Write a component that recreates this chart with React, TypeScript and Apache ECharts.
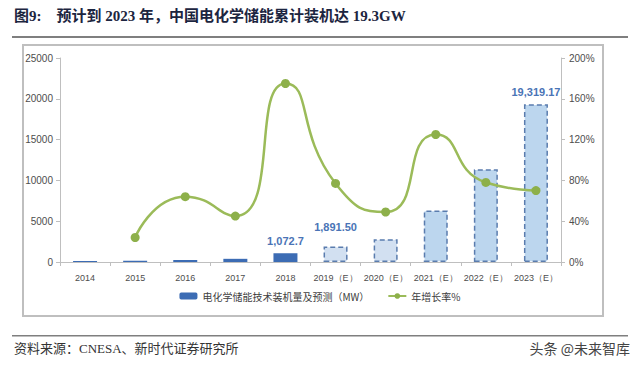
import React, { useEffect, useRef } from "react";
import * as echarts from "echarts";

const categories = ["2014", "2015", "2016", "2017", "2018", "2019（E）", "2020（E）", "2021（E）", "2022（E）", "2023（E）"];
const capacityMW = [120, 148, 243, 390, 1072.7, 1891.5, 2800, 6300, 11360, 19319.17];
const growthPct = [null, 24, 64, 45, 175, 77, 49, 125, 78, 70];
const barLabels = ["", "", "", "", "1,072.7", "1,891.50", "", "", "", "19,319.17"];
const isForecast = [false, false, false, false, false, true, true, true, true, true];
const leftTicks = { min: 0, max: 25000, interval: 5000 };
const rightTicks = { min: 0, max: 200, interval: 40 };
const barName = "电化学储能技术装机量及预测（MW）";
const lineName = "年增长率%";
const titleText = "图9:    预计到 2023 年，中国电化学储能累计装机达 19.3GW";
const sourceText = "资料来源：CNESA、新时代证券研究所";

export default function App() {
  const ref = useRef<HTMLDivElement>(null);
  useEffect(() => {
    if (!ref.current) return;
    const chart = echarts.init(ref.current, null, { renderer: "svg" });
    const axisFont = { fontFamily: "Liberation Sans Narrow, Liberation Sans, sans-serif", fontSize: 9, color: "#4d4d4d" };
    const barData = capacityMW.map((v, i) => {
      const item: any = { value: v };
      if (isForecast[i]) {
        item.itemStyle = {
          color: i < 7 ? "#d2e0f1" : "#bcd6ee",
          borderColor: "#5a7cae",
          borderWidth: 1.5,
          borderType: [5, 3],
        };
      }
      if (barLabels[i]) {
        item.label = {
          show: true,
          position: "top",
          distance: i === 5 ? 14 : 7,
          formatter: barLabels[i],
          color: "#4a74b6",
          fontWeight: "bold",
          fontSize: 11,
          fontFamily: "Liberation Sans Narrow, Liberation Sans, sans-serif",
        };
      }
      return item;
    });
    chart.setOption({
      animation: false,
      backgroundColor: "#ffffff",
      grid: { left: 60, right: 79, top: 58, bottom: 103, containLabel: false },
      legend: {
        data: [barName, lineName],
        bottom: 59,
        left: "center",
        itemWidth: 18,
        itemHeight: 7,
        itemGap: 18,
        textStyle: { fontSize: 10, color: "#404040", fontFamily: "Noto Sans CJK SC, sans-serif" },
      },
      xAxis: {
        type: "category",
        data: categories,
        axisLine: { lineStyle: { color: "#bfbfbf" } },
        axisTick: { show: true, lineStyle: { color: "#bfbfbf" }, length: 4 },
        axisLabel: { ...axisFont, margin: 11, interval: 0 },
      },
      yAxis: [
        {
          type: "value",
          ...leftTicks,
          axisLine: { show: true, lineStyle: { color: "#bfbfbf" } },
          axisTick: { show: true, lineStyle: { color: "#bfbfbf" }, length: 4 },
          splitLine: { show: false },
          axisLabel: { ...axisFont, fontSize: 10, margin: 7, formatter: (v: number) => String(v) },
        },
        {
          type: "value",
          ...rightTicks,
          axisLine: { show: true, lineStyle: { color: "#bfbfbf" } },
          axisTick: { show: true, lineStyle: { color: "#bfbfbf" }, length: 4 },
          splitLine: { show: false },
          axisLabel: { ...axisFont, fontSize: 10, margin: 8, formatter: "{value}%" },
        },
      ],
      series: [
        {
          name: barName,
          type: "bar",
          data: barData,
          barWidth: 24,
          itemStyle: { color: "#3c6cb4" },
          yAxisIndex: 0,
        },
        {
          name: lineName,
          type: "line",
          data: growthPct,
          yAxisIndex: 1,
          smooth: 0.6,
          symbol: "circle",
          symbolSize: 9,
          lineStyle: { color: "#9bbb59", width: 2.5 },
          itemStyle: { color: "#8db04a" },
          z: 5,
        },
      ],
      graphic: [
        {
          type: "text",
          left: 14,
          top: 8,
          style: {
            text: titleText,
            fill: "#1c2540",
            font: "bold 15px 'Liberation Serif', 'Noto Sans CJK SC', serif",
          },
        },
        { type: "rect", shape: { x: 12, y: 36, width: 616, height: 2 }, style: { fill: "#7f7f7f" } },
        {
          type: "rect",
          shape: { x: 23, y: 45, width: 580, height: 271 },
          style: { fill: "none", stroke: "#bfbfbf", lineWidth: 2 },
          z: -1,
        },
        { type: "rect", shape: { x: 12, y: 335, width: 616, height: 1.5 }, style: { fill: "#7f7f7f" } },
        {
          type: "text",
          left: 14,
          top: 342,
          style: {
            text: sourceText,
            fill: "#333333",
            font: "13px 'Liberation Serif', 'Noto Sans CJK SC', serif",
          },
        },
        {
          type: "text",
          right: 10,
          top: 341,
          style: {
            text: "头条 @未来智库",
            fill: "#444444",
            font: "14px 'Noto Sans CJK SC', sans-serif",
          },
        },
      ],
    });
    return () => chart.dispose();
  }, []);
  return <div ref={ref} style={{ width: 640, height: 365, position: "absolute", left: 0, top: 0 }} />;
}
